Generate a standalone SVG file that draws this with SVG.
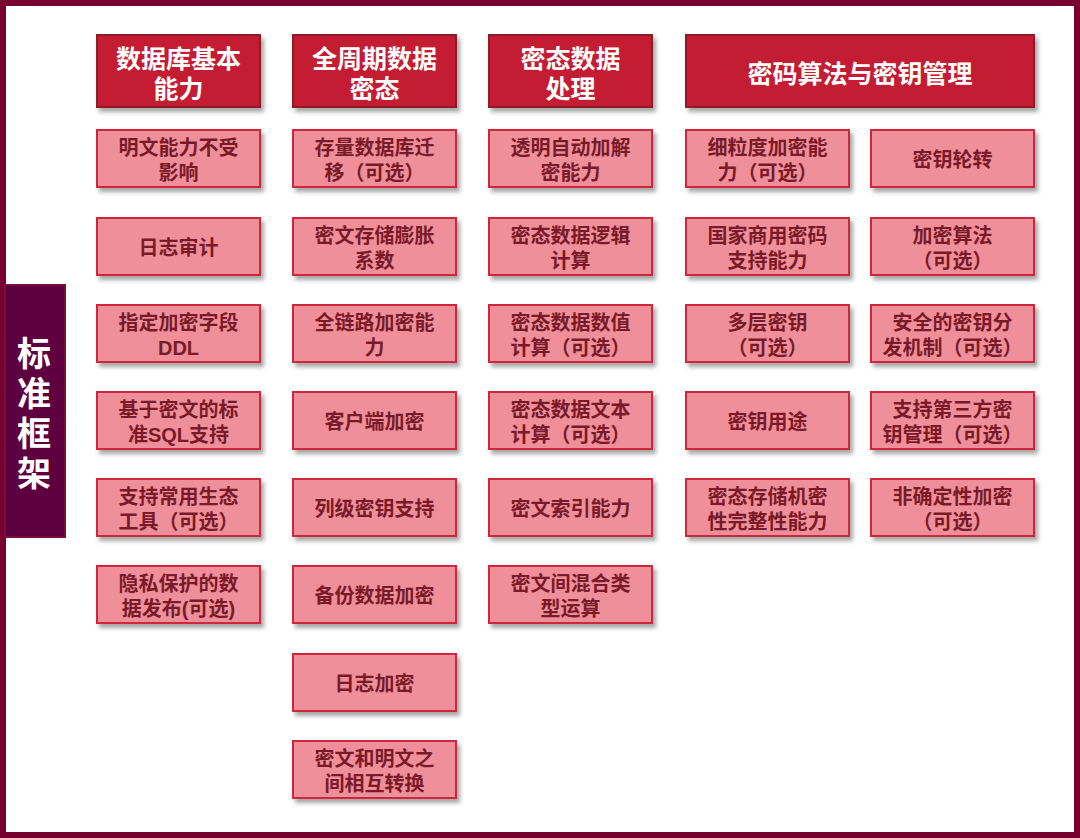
<svg xmlns="http://www.w3.org/2000/svg" width="1080" height="838" viewBox="0 0 1080 838">
<defs>
<filter id="sh" x="-10%" y="-20%" width="130%" height="150%">
<feDropShadow dx="3" dy="4" stdDeviation="2" flood-color="#000" flood-opacity="0.35"/>
</filter>
<style>
text{font-family:"Liberation Sans","Noto Sans CJK SC",sans-serif;font-weight:700;text-anchor:middle;dominant-baseline:central;transform:translateY(2px)}
.hd rect{fill:#c41c31;stroke:#8e1a28;stroke-width:2;filter:url(#sh)}
.hd text{fill:#fff;font-size:25px}
.it rect{fill:#ee8f99;stroke:#d0263a;stroke-width:2;filter:url(#sh)}
.it text{fill:#7a1a28;font-size:20px}
</style>
</defs>
<rect x="0" y="0" width="1080" height="838" fill="#fff"/>
<rect x="3" y="3" width="1074" height="832" fill="none" stroke="#780030" stroke-width="6"/>
<g id="side">
<rect x="5" y="285" width="60" height="252" fill="#5e003f" stroke="#7a1038" stroke-width="2"/>
<text fill="#fff" style="font-size:34px"><tspan x="34" y="352">标</tspan><tspan x="34" dy="40">准</tspan><tspan x="34" dy="40">框</tspan><tspan x="34" dy="40">架</tspan></text>
</g>
<g id="connectors"></g>
<g id="h1" class="hd"><rect x="97" y="35" width="163" height="72"/><text><tspan x="178.5" y="57">数据库基本</tspan><tspan x="178.5" dy="30">能力</tspan></text></g>
<g id="h2" class="hd"><rect x="293" y="35" width="163" height="72"/><text><tspan x="374.5" y="57">全周期数据</tspan><tspan x="374.5" dy="30">密态</tspan></text></g>
<g id="h3" class="hd"><rect x="489" y="35" width="163" height="72"/><text><tspan x="570.5" y="57">密态数据</tspan><tspan x="570.5" dy="30">处理</tspan></text></g>
<g id="h4" class="hd"><rect x="686" y="35" width="348" height="72"/><text x="860" y="72">密码算法与密钥管理</text></g>

<g id="c1r1" class="it"><rect x="97" y="130" width="163" height="57"/><text><tspan x="178.5" y="146">明文能力不受</tspan><tspan x="178.5" dy="25">影响</tspan></text></g>
<g id="c1r2" class="it"><rect x="97" y="218" width="163" height="57"/><text x="178.5" y="246">日志审计</text></g>
<g id="c1r3" class="it"><rect x="97" y="305" width="163" height="57"/><text><tspan x="178.5" y="321">指定加密字段</tspan><tspan x="178.5" dy="25">DDL</tspan></text></g>
<g id="c1r4" class="it"><rect x="97" y="392" width="163" height="57"/><text><tspan x="178.5" y="408">基于密文的标</tspan><tspan x="178.5" dy="25">准SQL支持</tspan></text></g>
<g id="c1r5" class="it"><rect x="97" y="479" width="163" height="57"/><text><tspan x="178.5" y="495">支持常用生态</tspan><tspan x="178.5" dy="25">工具（可选）</tspan></text></g>
<g id="c1r6" class="it"><rect x="97" y="566" width="163" height="57"/><text><tspan x="178.5" y="582">隐私保护的数</tspan><tspan x="178.5" dy="25">据发布(可选)</tspan></text></g>

<g id="c2r1" class="it"><rect x="293" y="130" width="163" height="57"/><text><tspan x="374.5" y="146">存量数据库迁</tspan><tspan x="374.5" dy="25">移（可选）</tspan></text></g>
<g id="c2r2" class="it"><rect x="293" y="218" width="163" height="57"/><text><tspan x="374.5" y="234">密文存储膨胀</tspan><tspan x="374.5" dy="25">系数</tspan></text></g>
<g id="c2r3" class="it"><rect x="293" y="305" width="163" height="57"/><text><tspan x="374.5" y="321">全链路加密能</tspan><tspan x="374.5" dy="25">力</tspan></text></g>
<g id="c2r4" class="it"><rect x="293" y="392" width="163" height="57"/><text x="374.5" y="420">客户端加密</text></g>
<g id="c2r5" class="it"><rect x="293" y="479" width="163" height="57"/><text x="374.5" y="507">列级密钥支持</text></g>
<g id="c2r6" class="it"><rect x="293" y="566" width="163" height="57"/><text x="374.5" y="594">备份数据加密</text></g>
<g id="c2r7" class="it"><rect x="293" y="654" width="163" height="57"/><text x="374.5" y="682">日志加密</text></g>
<g id="c2r8" class="it"><rect x="293" y="741" width="163" height="57"/><text><tspan x="374.5" y="757">密文和明文之</tspan><tspan x="374.5" dy="25">间相互转换</tspan></text></g>

<g id="c3r1" class="it"><rect x="489" y="130" width="163" height="57"/><text><tspan x="570.5" y="146">透明自动加解</tspan><tspan x="570.5" dy="25">密能力</tspan></text></g>
<g id="c3r2" class="it"><rect x="489" y="218" width="163" height="57"/><text><tspan x="570.5" y="234">密态数据逻辑</tspan><tspan x="570.5" dy="25">计算</tspan></text></g>
<g id="c3r3" class="it"><rect x="489" y="305" width="163" height="57"/><text><tspan x="570.5" y="321">密态数据数值</tspan><tspan x="570.5" dy="25">计算（可选）</tspan></text></g>
<g id="c3r4" class="it"><rect x="489" y="392" width="163" height="57"/><text><tspan x="570.5" y="408">密态数据文本</tspan><tspan x="570.5" dy="25">计算（可选）</tspan></text></g>
<g id="c3r5" class="it"><rect x="489" y="479" width="163" height="57"/><text x="570.5" y="507">密文索引能力</text></g>
<g id="c3r6" class="it"><rect x="489" y="566" width="163" height="57"/><text><tspan x="570.5" y="582">密文间混合类</tspan><tspan x="570.5" dy="25">型运算</tspan></text></g>

<g id="c4r1" class="it"><rect x="686" y="130" width="163" height="57"/><text><tspan x="767.5" y="146">细粒度加密能</tspan><tspan x="767.5" dy="25">力（可选）</tspan></text></g>
<g id="c4r2" class="it"><rect x="686" y="218" width="163" height="57"/><text><tspan x="767.5" y="234">国家商用密码</tspan><tspan x="767.5" dy="25">支持能力</tspan></text></g>
<g id="c4r3" class="it"><rect x="686" y="305" width="163" height="57"/><text><tspan x="767.5" y="321">多层密钥</tspan><tspan x="767.5" dy="25">（可选）</tspan></text></g>
<g id="c4r4" class="it"><rect x="686" y="392" width="163" height="57"/><text x="767.5" y="420">密钥用途</text></g>
<g id="c4r5" class="it"><rect x="686" y="479" width="163" height="57"/><text><tspan x="767.5" y="495">密态存储机密</tspan><tspan x="767.5" dy="25">性完整性能力</tspan></text></g>

<g id="c5r1" class="it"><rect x="871" y="130" width="163" height="57"/><text x="952.5" y="158">密钥轮转</text></g>
<g id="c5r2" class="it"><rect x="871" y="218" width="163" height="57"/><text><tspan x="952.5" y="234">加密算法</tspan><tspan x="952.5" dy="25">（可选）</tspan></text></g>
<g id="c5r3" class="it"><rect x="871" y="305" width="163" height="57"/><text><tspan x="952.5" y="321">安全的密钥分</tspan><tspan x="952.5" dy="25">发机制（可选）</tspan></text></g>
<g id="c5r4" class="it"><rect x="871" y="392" width="163" height="57"/><text><tspan x="952.5" y="408">支持第三方密</tspan><tspan x="952.5" dy="25">钥管理（可选）</tspan></text></g>
<g id="c5r5" class="it"><rect x="871" y="479" width="163" height="57"/><text><tspan x="952.5" y="495">非确定性加密</tspan><tspan x="952.5" dy="25">（可选）</tspan></text></g>
</svg>
